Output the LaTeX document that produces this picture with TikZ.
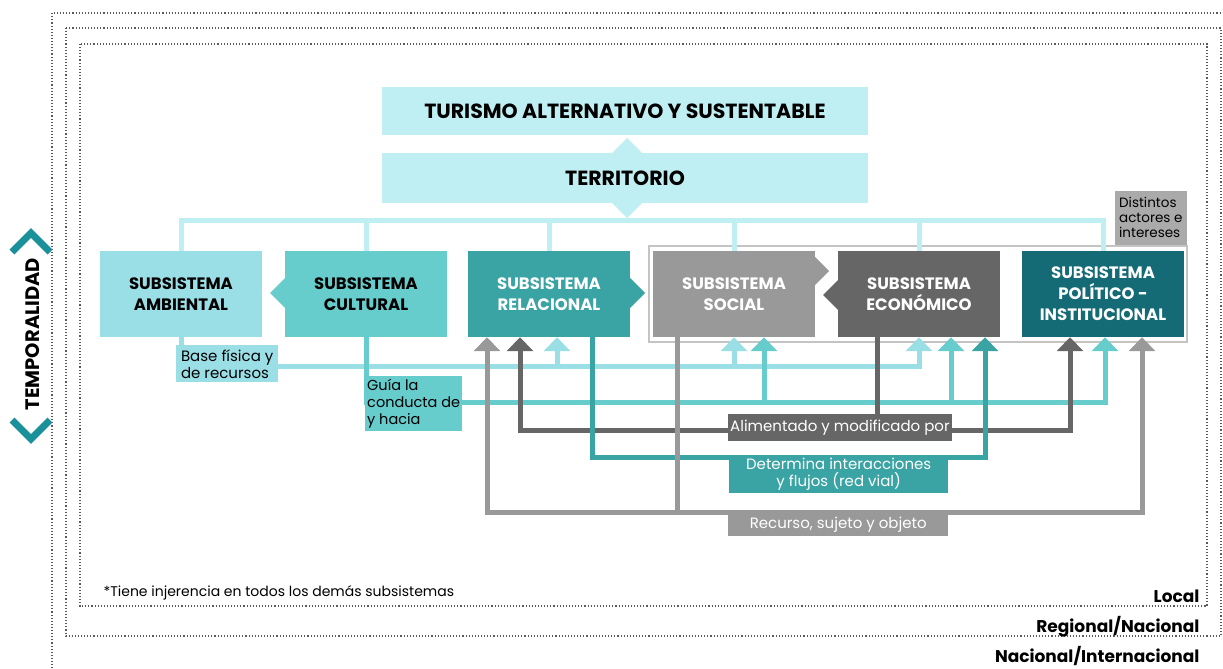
\documentclass[tikz,border=0pt]{standalone}
\usepackage{fontspec}
\setmainfont{Poppins}
\usetikzlibrary{arrows.meta,backgrounds}

\definecolor{turq}{HTML}{C0EFF3}
\definecolor{ambc}{HTML}{9BDFE6}
\definecolor{culc}{HTML}{66CCCC}
\definecolor{relc}{HTML}{3AA3A3}
\definecolor{socc}{HTML}{999999}
\definecolor{ecoc}{HTML}{666666}
\definecolor{polc}{HTML}{146B75}
\definecolor{tempc}{HTML}{1A909B}
\definecolor{framec}{HTML}{C4C4C4}
\definecolor{distc}{HTML}{AAAAAA}

\newcommand\fsz[2]{\fontsize{#1}{#2}\selectfont}

\tikzset{
  subbox/.style={minimum width=162pt,minimum height=86pt,inner sep=0pt,align=center,font=\bfseries\fsz{16.5}{21}},
  lbl/.style={anchor=north west,inner xsep=2pt,inner ysep=1pt,align=left,font=\fsz{15}{17}},
  con/.style={line width=5pt},
  tip/.style={-{Triangle[width=26pt,length=14pt]}},
  tips/.style={{Triangle[width=26pt,length=14pt]}-{Triangle[width=26pt,length=14pt]}},
  dots/.style={line width=1.1pt,dash pattern=on 1.1pt off 2pt,black!65},
  lvl/.style={anchor=base east,font=\bfseries\fsz{17}{20}}
}

\begin{document}
\begin{tikzpicture}[x=1pt,y=-1pt]
\useasboundingbox (0,0) rectangle (1223,669);

% escalas
\draw[dots] (52,690) -- (52,13) -- (1240,13);
\draw[dots] (66,28) rectangle (1221,636);
\draw[dots] (80,44) rectangle (1207,606);
\node[lvl] (loc) at (1203,602) {Local};
\node[lvl] (reg) at (1203,632) {Regional/Nacional};
\node[lvl] (nac) at (1203,662) {Nacional/Internacional};
\node[anchor=base west,font=\fsz{14}{16}] (nota) at (100,596) {*Tiene injerencia en todos los demás subsistemas};

% temporalidad
\node[rotate=90,font=\bfseries\fsz{19.5}{22}] (temp) at (33,334) {TEMPORALIDAD};
\draw[tempc,line width=7pt] (12,252) -- (31,233) -- (50,252);
\draw[tempc,line width=7pt] (12,420) -- (31,439) -- (50,420);

% cabecera
\node[fill=turq,minimum width=486pt,minimum height=48pt,font=\bfseries\fsz{20.5}{24}] (tur) at (625,111) {TURISMO ALTERNATIVO Y SUSTENTABLE};
\node[fill=turq,minimum width=486pt,minimum height=50pt,font=\bfseries\fsz{20.5}{24}] (ter) at (625,178) {TERRITORIO};
\fill[turq] (612,153) -- (627,138) -- (642,153) -- cycle;
\fill[turq] (612,203) -- (627,218) -- (642,203) -- cycle;

% subsistemas
\node[subbox,fill=ambc] (amb) at (181,294) {SUBSISTEMA\\AMBIENTAL};
\node[subbox,fill=culc] (cul) at (366,294) {SUBSISTEMA\\CULTURAL};
\node[subbox,fill=relc,text=white] (rel) at (549,294) {SUBSISTEMA\\RELACIONAL};
\node[subbox,fill=socc,text=white] (soc) at (734,294) {SUBSISTEMA\\SOCIAL};
\node[subbox,fill=ecoc,text=white] (eco) at (919,294) {SUBSISTEMA\\ECONÓMICO};
\node[subbox,fill=polc,text=white] (pol) at (1103,294) {SUBSISTEMA\\POLÍTICO -\\INSTITUCIONAL};
\fill[culc] (285,278) -- (270,293) -- (285,308) -- cycle;
\fill[relc] (630,278) -- (645,293) -- (630,308) -- cycle;
\fill[socc] (815,257) -- (829,271) -- (815,285) -- cycle;
\fill[ecoc] (838,280) -- (823,295) -- (838,310) -- cycle;
\node[anchor=south east,fill=distc,minimum width=72pt,minimum height=54pt,inner sep=0pt,align=left,font=\fsz{13.5}{15}] (dist) at (1187,245) {Distintos\\actores e\\intereses};

% etiquetas
\node[lbl,fill=ambc,minimum width=102pt,minimum height=37pt] (lbA) at (176,345) {Base física y\\de recursos};
\node[lbl,fill=culc,minimum width=96pt,minimum height=55pt,font=\fsz{14.5}{17}] (lbC) at (365,376) {Guía la\\conducta de\\y hacia};
\node[lbl,fill=ecoc,text=white,minimum width=220pt,minimum height=27pt,align=center] (lbE) at (728,414) {Alimentado y modificado por};
\node[lbl,fill=relc,text=white,minimum width=219pt,minimum height=38pt,align=center] (lbR) at (729,455) {Determina interacciones\\y flujos (red vial)};
\node[lbl,fill=socc,text=white,minimum width=220pt,minimum height=23pt,align=center] (lbS) at (728,513) {Recurso, sujeto y objeto};

\begin{scope}[on background layer]
  \draw[framec,line width=1.5pt] (649,246) rectangle (1187,342);
  % territorio a subsistemas
  \draw[con,turq] (amb.north) |- (pol.north |- 0,220) -- (pol.north);
  \foreach \b in {cul,rel,soc,eco}
    \draw[con,turq] (\b.north) -- (\b.north |- 0,220);
  % ambiental
  \draw[con,ambc,tip] (amb.south) |- (eco.south |- 0,366) -- (eco.south);
  \draw[con,ambc,tip] (557,366) -- (557,0 |- rel.south);
  \draw[con,ambc,tip] (734,366) -- (soc.south);
  % cultural
  \draw[con,culc,tip] (cul.south) |- (1105,402) -- (1105,0 |- pol.south);
  \draw[con,culc,tip] (764,402) -- (764,0 |- soc.south);
  \draw[con,culc,tip] (951,402) -- (951,0 |- eco.south);
  % economico
  \draw[con,ecoc] (877,0 |- eco.south) -- (877,0 |- lbE.north);
  \draw[con,ecoc,tips] (520,0 |- rel.south) |- (1070,430) -- (1070,0 |- pol.south);
  % relacional
  \draw[con,relc,tip] (592,0 |- rel.south) |- (985,457) -- (985,0 |- eco.south);
  % social
  \draw[con,socc] (677,0 |- soc.south) -- (677,512);
  \draw[con,socc,tips] (487,0 |- rel.south) |- (1142,512) -- (1142,0 |- pol.south);
\end{scope}
\end{tikzpicture}
\end{document}
